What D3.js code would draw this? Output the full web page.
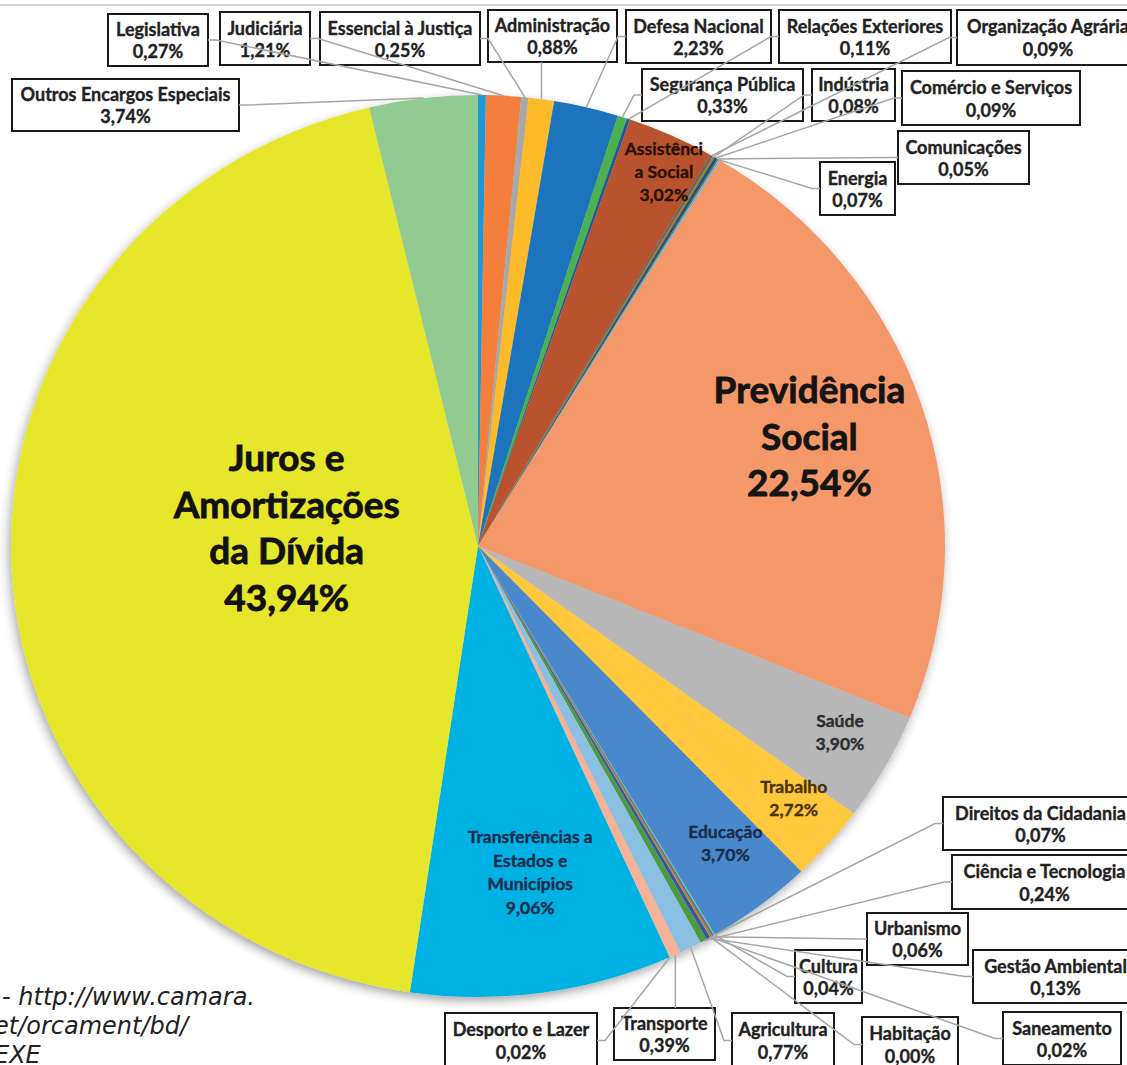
<!DOCTYPE html>
<html>
<head>
<meta charset="utf-8">
<script src="https://cdn.jsdelivr.net/npm/d3@7"></script>
<style>
  body { margin: 0; background: #fff; }
  svg { display: block; font-family: Lato, "Open Sans", sans-serif; }
</style>
</head>
<body>
<div id="chart"></div>
<script>
// Budget functions, in the order they sit around the pie (clockwise from 12 o'clock)
var categories = [
  "Legislativa", "Judiciária", "Essencial à Justiça", "Administração", "Defesa Nacional",
  "Segurança Pública", "Relações Exteriores", "Assistência Social", "Organização Agrária", "Indústria",
  "Comércio e Serviços", "Comunicações", "Energia", "Previdência Social", "Saúde",
  "Trabalho", "Educação", "Cultura", "Direitos da Cidadania", "Urbanismo",
  "Habitação", "Saneamento", "Gestão Ambiental", "Ciência e Tecnologia", "Agricultura",
  "Transporte", "Desporto e Lazer", "Transferências a Estados e Municípios",
  "Juros e Amortizações da Dívida", "Outros Encargos Especiais"
];

// share of the budget, %
var values = [
  0.27, 1.21, 0.25, 0.88, 2.23,
  0.33, 0.11, 3.02, 0.09, 0.08,
  0.09, 0.05, 0.07, 22.54, 3.90,
  2.72, 3.70, 0.04, 0.07, 0.06,
  0.00, 0.02, 0.13, 0.24, 0.77,
  0.39, 0.02, 9.06,
  43.94, 3.74
];

var sliceColors = [
  "#1f98d6", "#f47f3e", "#a8a8a8", "#fdbb2c", "#1b75bc",
  "#4cb04f", "#1f5c99", "#b9522e", "#646464", "#a07c1c",
  "#21468f", "#3e7a2e", "#6fb2e0", "#f4986a", "#b8b8b8",
  "#ffc83d", "#4a89cb", "#8dc56a", "#2e80c6", "#e0661a",
  "#888888", "#cc9a00", "#3059a8", "#4e9a45", "#8cc0e2",
  "#f7b196", "#cccccc", "#00b2e3",
  "#e6e62a", "#92cb91"
];

var fmt = function(v) { return v.toFixed(2).replace(".", ",") + "%"; };

// callout boxes (label layout, x / y / w / h)
var boxLayout = {
  "Legislativa":              [108, 14, 100, 52],
  "Judiciária":               [220, 12, 90, 53],
  "Essencial à Justiça":      [320, 12, 160, 53],
  "Administração":            [488, 10, 129, 52],
  "Defesa Nacional":          [626, 10, 145, 53],
  "Relações Exteriores":      [779, 10, 172, 53],
  "Organização Agrária":      [957, 10, 182, 55],
  "Outros Encargos Especiais":[12, 79, 227, 52],
  "Segurança Pública":        [642, 69, 161, 52],
  "Indústria":                [812, 69, 83, 52],
  "Comércio e Serviços":      [902, 71, 178, 54],
  "Comunicações":             [898, 131, 131, 53],
  "Energia":                  [820, 162, 75, 53],
  "Direitos da Cidadania":    [943, 797, 195, 53],
  "Ciência e Tecnologia":     [952, 855, 185, 54],
  "Urbanismo":                [867, 913, 101, 52],
  "Gestão Ambiental":         [973, 950, 165, 53],
  "Cultura":                  [795, 950, 67, 53],
  "Saneamento":               [1003, 1012, 118, 53],
  "Habitação":                [862, 1017, 96, 55],
  "Agricultura":              [732, 1013, 102, 55],
  "Transporte":               [614, 1008, 101, 52],
  "Desporto e Lazer":         [445, 1013, 152, 55]
};

// labels written inside the slices
var insideLabels = {
  "Juros e Amortizações da Dívida": { lines: ["Juros e", "Amortizações", "da Dívida"], size: 37, lh: 46.5, r: 0.41, dx: 0, dy: -26, color: "#111" },
  "Previdência Social": { lines: ["Previdência", "Social"], size: 37, lh: 46.5, r: 0.747, dx: 0, dy: -4, color: "#141414" },
  "Assistência Social": { lines: ["Assistênci", "a Social"], size: 17.5, lh: 23, r: 0.91, dx: 10, dy: 0, color: "#2a1208" },
  "Saúde": { lines: ["Saúde"], size: 17.5, lh: 23, r: 0.87, dx: 8, dy: -6, color: "#2e2e2e" },
  "Trabalho": { lines: ["Trabalho"], size: 17.5, lh: 23, r: 0.9, dx: 0, dy: -16, color: "#4a3400" },
  "Educação": { lines: ["Educação"], size: 17.5, lh: 23, r: 0.87, dx: 2, dy: -15, color: "#1c2d4d" },
  "Transferências a Estados e Municípios": { lines: ["Transferências a", "Estados e", "Municípios"], size: 17.5, lh: 23.5, r: 0.78, dx: 2, dy: -22, color: "#1c2d4d" }
};

var sourceLines = ["-  http://www.camara.", "et/orcament/bd/", "EXE"];

var data = categories.map(function(c, i) {
  return { name: c, value: values[i], color: sliceColors[i] };
});

var W = 1127, H = 1065;
var cx = 478, cy = 546, ry = 451, rx = 467;

var svg = d3.select("#chart").append("svg")
  .attr("width", W)
  .attr("height", H);

var defs = svg.append("defs");
var shadow = defs.append("filter").attr("id", "shadow")
  .attr("x", "-10%").attr("y", "-10%").attr("width", "120%").attr("height", "120%");
shadow.append("feDropShadow")
  .attr("dx", -2).attr("dy", 4).attr("stdDeviation", 5)
  .attr("flood-color", "#000").attr("flood-opacity", 0.35);

// thin rule at the very top
svg.append("line")
  .attr("x1", 0).attr("x2", W).attr("y1", 5).attr("y2", 5)
  .attr("stroke", "#d4d4d4").attr("stroke-width", 2);

var pie = d3.pie().sort(null).value(function(d) { return d.value; });
var arcs = pie(data);
var arc = d3.arc().innerRadius(0).outerRadius(ry);

// pie is a touch wider than tall in the picture
var pieG = svg.append("g")
  .attr("transform", "translate(" + cx + "," + cy + ") scale(" + (rx / ry) + ",1)")
  .attr("filter", "url(#shadow)");

pieG.selectAll("path")
  .data(arcs)
  .enter()
  .append("path")
  .attr("d", arc)
  .attr("fill", function(d) { return d.data.color; });

function pointAt(angle, k) {
  return [cx + rx * k * Math.sin(angle), cy - ry * k * Math.cos(angle)];
}

// inside labels
arcs.forEach(function(a) {
  var cfg = insideLabels[a.data.name];
  if (!cfg) return;
  var mid = (a.startAngle + a.endAngle) / 2;
  var p = pointAt(mid, cfg.r);
  var lines = cfg.lines.concat([fmt(a.data.value)]);
  var top = p[1] + cfg.dy - (lines.length - 1) * cfg.lh / 2;
  var t = svg.append("text")
    .attr("text-anchor", "middle")
    .attr("font-weight", 700)
    .attr("font-size", cfg.size)
    .attr("fill", cfg.color)
    .attr("stroke", cfg.color)
    .attr("stroke-width", cfg.size > 30 ? 0.8 : 0.4);
  lines.forEach(function(l, i) {
    t.append("tspan")
      .attr("x", p[0] + cfg.dx)
      .attr("y", top + i * cfg.lh)
      .attr("dy", "0.35em")
      .text(l);
  });
});

// callout boxes
var boxG = svg.append("g");
var lineG = svg.append("g");

arcs.forEach(function(a) {
  var b = boxLayout[a.data.name];
  if (!b) return;
  var x = b[0], y = b[1], w = b[2], h = b[3];
  var mid = (a.startAngle + a.endAngle) / 2;
  var tp = pointAt(mid, 1);

  boxG.append("rect")
    .attr("x", x).attr("y", y).attr("width", w).attr("height", h)
    .attr("fill", "#fff")
    .attr("stroke", "#1a1a1a")
    .attr("stroke-width", 2);

  var t = boxG.append("text")
    .attr("text-anchor", "middle")
    .attr("font-weight", 700)
    .attr("font-size", 18)
    .attr("fill", "#222")
    .attr("stroke", "#222")
    .attr("stroke-width", 0.35);
  t.append("tspan").attr("x", x + w / 2).attr("y", y + h * 0.31).attr("dy", "0.35em").text(a.data.name);
  t.append("tspan").attr("x", x + w / 2).attr("y", y + h * 0.73).attr("dy", "0.35em").text(fmt(a.data.value));

  // leader line: side of the box nearest the slice, with a short stub
  var pts;
  if (x > tp[0]) {
    pts = [[x, y + h / 2], [x - 8, y + h / 2], tp];
  } else if (x + w < tp[0]) {
    pts = [[x + w, y + h / 2], [x + w + 8, y + h / 2], tp];
  } else if (y > tp[1]) {
    pts = [[tp[0], y], tp];
  } else {
    pts = [[tp[0], y + h], tp];
  }
  lineG.append("path")
    .attr("d", d3.line()(pts))
    .attr("fill", "none")
    .attr("stroke", "#a6a6a6")
    .attr("stroke-width", 1.5);
});

// source note, cut off at the left edge as in the original
var src = svg.append("text")
  .attr("font-family", "DejaVu Sans, sans-serif")
  .attr("font-style", "italic")
  .attr("font-size", 24)
  .attr("fill", "#222");
sourceLines.forEach(function(l, i) {
  src.append("tspan").attr("x", i === 0 ? 2 : -6).attr("y", 1005 + i * 29).text(l);
});
</script>
</body>
</html>
